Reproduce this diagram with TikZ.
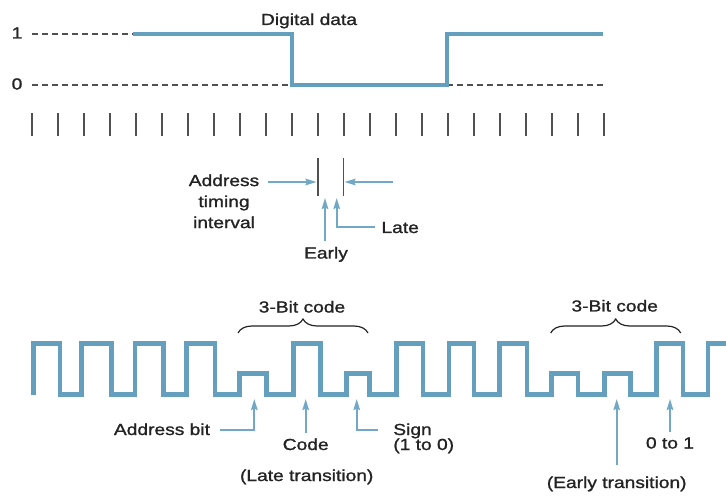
\documentclass[tikz,border=0pt]{standalone}
\usepackage{fontspec}
\setmainfont{Liberation Sans}[FakeStretch=1.2,FakeBold=1.2]
\usetikzlibrary{arrows.meta,decorations.pathreplacing}
\definecolor{wave}{RGB}{100,160,190}
\definecolor{arr}{RGB}{112,168,198}
\definecolor{ink}{RGB}{35,35,35}
\definecolor{dash}{RGB}{80,80,80}
\tikzset{
  lbl/.style={font=\fontsize{16}{21}\selectfont, text=ink, inner sep=0pt, outer sep=0pt},
  sig/.style={draw=wave, line width=4.8pt, line join=miter},
  guide/.style={draw=dash, line width=1.3pt, dash pattern=on 6pt off 4pt},
  tick/.style={draw=dash, line width=1.6pt},
  pointer/.style={draw=arr, line width=1.8pt, -{Stealth[length=11pt,width=6.5pt,inset=1.5pt]}},
  leader/.style={draw=arr, line width=1.8pt},
  brc/.style={draw=ink, line width=1.2pt, decorate, decoration={brace, amplitude=14pt}}
}
\begin{document}
\begin{tikzpicture}[x=1pt,y=-1pt]
\useasboundingbox (0,0) rectangle (726,497);
\fill[white] (0,0) rectangle (726,497);

% ---------- top: digital data ----------
\node[lbl, anchor=base] (dd) at (309,25) {Digital data};
\node[lbl, anchor=base] (one) at (17,38.5) {1};
\node[lbl, anchor=base] (zero) at (17,89.5) {0};
\draw[guide] (32,34) -- (133,34);
\draw[guide] (32,85) -- (292,85);
\draw[guide] (447,85) -- (603,85);
\draw[sig] (133,34) -- (292,34) -- (292,85) -- (447,85) -- (447,34) -- (603,34);

% ticks
\foreach \k in {0,...,22}{
  \draw[tick] ({31.7+26*\k},113) -- ({31.7+26*\k},136);
}

% ---------- address timing interval ----------
\draw[tick] (317.7,158) -- (317.7,196);
\draw[tick] (343.3,158) -- (343.3,196);
\node[lbl, align=center, anchor=north] (ati) at (224,174.5)
  {Address\\timing\\interval};
\coordinate (al0) at (268,182);
\coordinate (al1) at (316.5,182);
\coordinate (ar0) at (393,182);
\coordinate (ar1) at (344.5,182);
\draw[pointer] (al0) -- (al1);
\draw[pointer] (ar0) -- (ar1);
\node[lbl, anchor=base] (early) at (326,258.5) {Early};
\node[lbl, anchor=base west] (late) at (381.5,233) {Late};
\coordinate (e0) at (325,241);
\coordinate (e1) at (325,198);
\coordinate (l0) at (375,227);
\coordinate (lc) at (336.7,227);
\coordinate (l1) at (336.7,198);
\draw[pointer] (e0) -- (e1);
\draw[pointer] (l0) -- (lc) -- (l1);

% ---------- bottom waveform ----------
\def\H{343.5}\def\M{373.5}\def\L{394.5}
\draw[sig] (33.3,\L) -- (33.3,\H) -- (60,\H) -- (60,\L)
  -- (81.7,\L) -- (81.7,\H) -- (111.7,\H) -- (111.7,\L)
  -- (135,\L) -- (135,\H) -- (163.3,\H) -- (163.3,\L)
  -- (186.7,\L) -- (186.7,\H) -- (215,\H) -- (215,\L)
  -- (239.3,\L) -- (239.3,\M) -- (266.7,\M) -- (266.7,\L)
  -- (293.3,\L) -- (293.3,\H) -- (320.7,\H) -- (320.7,\L)
  -- (346.7,\L) -- (346.7,\M) -- (369.7,\M) -- (369.7,\L)
  -- (396.3,\L) -- (396.3,\H) -- (423,\H) -- (423,\L)
  -- (449,\L) -- (449,\H) -- (474,\H) -- (474,\L)
  -- (499.7,\L) -- (499.7,\H) -- (527,\H) -- (527,\L)
  -- (551.3,\L) -- (551.3,\M) -- (578,\M) -- (578,\L)
  -- (604.7,\L) -- (604.7,\M) -- (630.7,\M) -- (630.7,\L)
  -- (656.3,\L) -- (656.3,\H) -- (683,\H) -- (683,\L)
  -- (708,\L) -- (708,\H) -- (726,\H);

% braces
\coordinate (b1a) at (238,333);
\coordinate (b1b) at (368,333);
\coordinate (b2a) at (550.7,333);
\coordinate (b2b) at (680.7,333);
\draw[brc] (b1a) -- (b1b);
\draw[brc] (b2a) -- (b2b);
\node[lbl, anchor=base] (c1) at (302,312.5) {3-Bit code};
\node[lbl, anchor=base] (c2) at (614.7,311.5) {3-Bit code};

% bottom labels
\node[lbl, anchor=base east] (abit) at (210,435) {Address bit};
\node[lbl, anchor=base] (code) at (305.7,450) {Code};
\node[lbl, anchor=base west] (sign) at (393.3,435) {Sign};
\node[lbl, anchor=base west] (sign2) at (393.3,450) {(1 to 0)};
\node[lbl, anchor=base] (latet) at (306.7,481) {(Late transition)};
\node[lbl, anchor=base] (zo) at (670,448.5) {0 to 1};
\node[lbl, anchor=base] (earlyt) at (616.7,488) {(Early transition)};

% bottom pointers
\coordinate (p1s) at (220,430);
\coordinate (p1c) at (254.3,430);
\coordinate (p1t) at (254.3,399);
\draw[pointer] (p1s) -- (p1c) -- (p1t);
\coordinate (p2s) at (305.7,433);
\coordinate (p2t) at (305.7,399);
\draw[pointer] (p2s) -- (p2t);
\coordinate (p3s) at (378,430);
\coordinate (p3c) at (356.7,430);
\coordinate (p3t) at (356.7,399);
\draw[pointer] (p3s) -- (p3c) -- (p3t);
\coordinate (p4s) at (616.7,465);
\coordinate (p4t) at (616.7,399);
\draw[pointer] (p4s) -- (p4t);
\coordinate (p5s) at (670,431.5);
\coordinate (p5t) at (670,399);
\draw[pointer] (p5s) -- (p5t);
\end{tikzpicture}
\end{document}
